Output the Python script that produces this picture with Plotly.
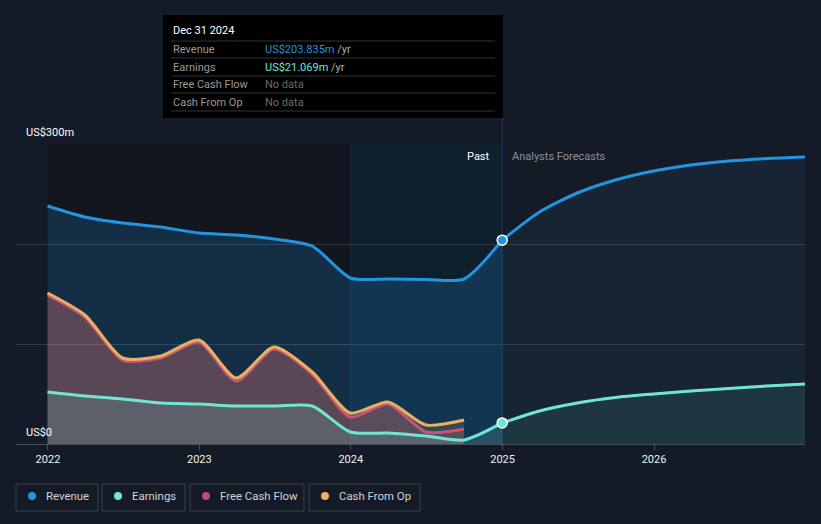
import plotly.graph_objects as go

# ---------------- data (US$ millions) ----------------
past_dates = ["2021-12-31", "2022-03-31", "2022-06-30", "2022-09-30", "2022-12-31",
              "2023-03-31", "2023-06-30", "2023-09-30", "2023-12-31",
              "2024-03-31", "2024-06-30", "2024-09-30", "2024-12-31"]
revenue_past = [238, 227, 221, 217, 211, 209, 205, 198, 166, 165, 164.5, 165, 203.835]
earnings_past = [52, 48, 45, 41, 40, 38, 38, 38, 12, 11, 8, 4, 21.069]

cash_dates = past_dates[:-1]
fcf = [149, 127, 84, 86, 102, 63, 95, 70, 27, 40, 12, 15]
cfo = [151, 129, 86, 88, 104, 66, 97, 72, 31, 42, 19, 24]

fc_dates = ["2024-12-31", "2025-03-31", "2025-06-30", "2025-09-30", "2025-12-31",
            "2026-03-31", "2026-06-30", "2026-09-30", "2026-12-31"]
revenue_fc = [203.835, 232, 251, 264, 273, 279, 283, 285.5, 287]
earnings_fc = [21.069, 33, 41, 46.5, 50, 53, 55.5, 58, 60]

year_ticks = ["2022-01-01", "2023-01-01", "2024-01-01", "2025-01-01", "2026-01-01"]
year_labels = ["2022", "2023", "2024", "2025", "2026"]

series_names = ["Revenue", "Earnings", "Free Cash Flow", "Cash From Op"]

# ---------------- styles ----------------
BG = "#151b26"
C_REV = "#2394df"
C_EARN = "#6fe6d2"
C_FCF = "#c2457e"
C_CFO = "#e9b060"
colors = [C_REV, C_EARN, C_FCF, C_CFO]
FONT = "Roboto"

W, H = 821, 524
L, R, T, B = 16, 16, 144, 80
PW, PH = W - L - R, H - T - B


def px_x(x):
    return (x - L) / PW


def px_y(y):
    return (H - B - y) / PH


fig = go.Figure()

line_kw = dict(shape="spline", smoothing=0.7, width=3)

# revenue
fig.add_trace(go.Scatter(x=past_dates, y=revenue_past, mode="lines",
                         line=dict(color=C_REV, **line_kw), fill="tozeroy",
                         fillcolor="rgba(35,148,223,0.2)", hoverinfo="skip"))
fig.add_trace(go.Scatter(x=fc_dates, y=revenue_fc, mode="lines",
                         line=dict(color=C_REV, **line_kw), fill="tozeroy",
                         fillcolor="rgba(35,148,223,0.08)", hoverinfo="skip"))
# cash flows
fig.add_trace(go.Scatter(x=cash_dates, y=fcf, mode="lines",
                         line=dict(color=C_FCF, **line_kw), fill="tozeroy",
                         fillcolor="rgba(194,69,126,0.26)", hoverinfo="skip"))
fig.add_trace(go.Scatter(x=cash_dates, y=cfo, mode="lines",
                         line=dict(color=C_CFO, **line_kw), fill="tozeroy",
                         fillcolor="rgba(233,176,96,0.16)", hoverinfo="skip"))
# earnings
fig.add_trace(go.Scatter(x=past_dates, y=earnings_past, mode="lines",
                         line=dict(color=C_EARN, **line_kw), fill="tozeroy",
                         fillcolor="rgba(111,230,210,0.16)", hoverinfo="skip"))
fig.add_trace(go.Scatter(x=fc_dates, y=earnings_fc, mode="lines",
                         line=dict(color=C_EARN, **line_kw), fill="tozeroy",
                         fillcolor="rgba(111,230,210,0.09)", hoverinfo="skip"))
# highlighted points
fig.add_trace(go.Scatter(x=[past_dates[-1], past_dates[-1]],
                         y=[revenue_past[-1], earnings_past[-1]], mode="markers",
                         marker=dict(size=10, color=[C_REV, C_EARN],
                                     line=dict(color="#ffffff", width=1.5)),
                         hoverinfo="skip"))

shapes = []
# dark past region
shapes.append(dict(type="rect", xref="x", yref="paper", x0="2021-12-31", x1="2023-12-31",
                   y0=0, y1=1, fillcolor="rgba(0,0,0,0.18)", line=dict(width=0), layer="below"))
# highlighted last year band
shapes.append(dict(type="rect", xref="x", yref="paper", x0="2023-12-31", x1="2024-12-31",
                   y0=0, y1=1, fillcolor="rgba(6,37,58,0.4)", line=dict(width=0), layer="below"))
shapes.append(dict(type="line", xref="x", yref="paper", x0="2023-12-31", x1="2023-12-31",
                   y0=0, y1=1, line=dict(color="rgba(60,110,150,0.2)", width=1), layer="below"))
# hover line
shapes.append(dict(type="line", xref="x", yref="paper", x0="2024-12-31", x1="2024-12-31",
                   y0=0, y1=px_y(15), line=dict(color="#1e3a55", width=1), layer="below"))
# tooltip box
shapes.append(dict(type="rect", xref="paper", yref="paper", x0=px_x(163), x1=px_x(503),
                   y0=px_y(118), y1=px_y(15), fillcolor="#000000", line=dict(width=0),
                   layer="above"))
for yy in [41, 58, 76, 93, 111]:
    shapes.append(dict(type="line", xref="paper", yref="paper", x0=px_x(171), x1=px_x(495),
                       y0=px_y(yy), y1=px_y(yy), line=dict(color="#333333", width=1),
                       layer="above"))

annotations = []


def ann(text, x, y, color, size=11, xanchor="left", **kw):
    annotations.append(dict(text=text, x=px_x(x), y=px_y(y), xref="paper", yref="paper",
                            xanchor=xanchor, yanchor="middle", showarrow=False,
                            font=dict(family=FONT, size=size, color=color), **kw))


# tooltip content
ann("Dec 31 2024", 171, 31, "#ffffff")
ann("Revenue", 171, 49, "#9b9b9b")
ann("Earnings", 171, 67, "#9b9b9b")
ann("Free Cash Flow", 171, 84, "#9b9b9b")
ann("Cash From Op", 171, 102, "#9b9b9b")
ann(f"<span style='color:{C_REV}'>US${revenue_past[-1]:.3f}m</span> /yr", 263, 49, "#b0b0b0")
ann(f"<span style='color:{C_EARN}'>US${earnings_past[-1]:.3f}m</span> /yr", 263, 67, "#b0b0b0")
ann("No data", 263, 84, "#6b6b6b")
ann("No data", 263, 102, "#6b6b6b")

# y labels
ann("US$300m", 24, 132, "#ffffff")
ann("US$0", 24, 432, "#ffffff")

# past / forecast
ann("Past", 492, 156, "#ffffff", xanchor="right")
ann("Analysts Forecasts", 510, 156, "#8c9199")

# legend boxes
legend_boxes = [(16, 98), (102, 185), (190, 304), (309, 420)]
for (x0, x1), name, col in zip(legend_boxes, series_names, colors):
    shapes.append(dict(type="rect", xref="paper", yref="paper", x0=px_x(x0), x1=px_x(x1),
                       y0=px_y(511), y1=px_y(484), fillcolor="rgba(0,0,0,0)",
                       line=dict(color="#3a404b", width=1)))
    shapes.append(dict(type="circle", xref="paper", yref="paper", x0=px_x(x0 + 12),
                       x1=px_x(x0 + 20), y0=px_y(500), y1=px_y(492), fillcolor=col,
                       line=dict(width=0)))
    ann(name, x0 + 28, 496, "#d0d3d8", size=11.4)

fig.update_layout(
    width=W, height=H,
    margin=dict(l=L, r=R, t=T, b=B, pad=0),
    paper_bgcolor=BG, plot_bgcolor=BG,
    showlegend=False,
    font=dict(family=FONT, color="#e6e6e6", size=11),
    shapes=shapes, annotations=annotations,
    xaxis=dict(type="date", range=["2021-10-16", "2026-12-31"],
               tickvals=year_ticks, ticktext=year_labels,
               showgrid=False, zeroline=False, showline=False,
               ticks="outside", ticklen=5, tickcolor="#4a505a",
               tickfont=dict(family=FONT, size=11, color="#f0f0f0")),
    yaxis=dict(range=[0, 300], tickvals=[0, 100, 200, 300], showticklabels=False,
               showgrid=True, gridcolor="#323843", gridwidth=1,
               zeroline=True, zerolinecolor="#4a505a", zerolinewidth=1,
               showline=False, fixedrange=True),
)

fig.write_html("out.html", config={"displayModeBar": False},
               post_script="document.body.style.margin='0';document.body.style.overflow='hidden';document.body.style.background='" + BG + "';")
